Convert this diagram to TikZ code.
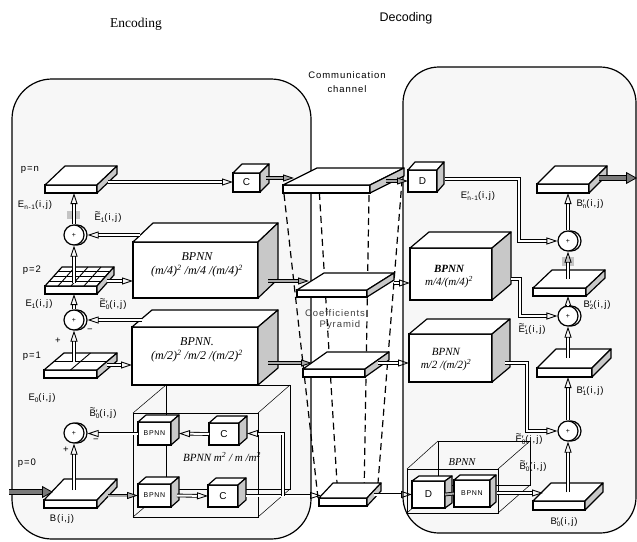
\documentclass[tikz,border=0pt]{standalone}
\usepackage{fontspec}
\setmainfont{Liberation Serif}
\setsansfont{Liberation Sans}
\newfontfamily\lab{Liberation Sans}[LetterSpace=10]
\usetikzlibrary{arrows.meta,calc}
\definecolor{panelfill}{HTML}{F7F7F7}
\definecolor{sidegray}{HTML}{C8C8C8}
\definecolor{arrgray}{HTML}{A8A8A8}
\definecolor{biggray}{HTML}{7A7A7A}
\definecolor{blobgray}{HTML}{C4C4C4}
\newcommand\sbs[1]{\raisebox{-0.35ex}{\fontsize{6.5}{6.5}\selectfont #1}}
\newcommand\ps[1]{\rlap{′}\sbs{#1}}
\newcommand\tld[1]{\setbox0\hbox{#1}\rlap{\hbox to \wd0{\hss\raisebox{0.55em}{\textasciitilde}\hss}}#1}
% name, x, y, w, h, dx, dy, style, text
\newcommand\cubenode[9]{%
  \node[cubefront,#8,minimum width=#4pt,minimum height=#5pt,anchor=north west] (#1) at (#2,#3) {#9};
  \draw[cubeedge,fill=white] (#1.north west) -- ++(#6,-#7) -- ++(#4,0) -- (#1.north east) -- cycle;
  \draw[cubeedge,fill=sidegray] (#1.north east) -- ++(#6,-#7) -- ++(0,#5) -- (#1.south east) -- cycle;
}
\tikzset{
  panel/.style={draw=black,line width=1.2pt,fill=panelfill},
  cubefront/.style={draw=black,line width=1.2pt,fill=white,inner sep=0pt,outer sep=0pt},
  cubeedge/.style={draw=black,line width=1.2pt,line join=round},
  wire/.style={draw=black,line width=0.5pt},
  pyr/.style={draw=black,line width=1.2pt,dash pattern=on 7pt off 4.5pt},
  harrow/.style={draw=black,line width=0.85pt,double=white,double distance=2pt,-{Triangle[open,length=11pt,width=7pt]}},
  garrow/.style={draw=black,line width=0.85pt,double=arrgray,double distance=2pt,-{Triangle[length=11pt,width=7pt,fill=arrgray]}},
  bigarrow/.style={draw=black,line width=0.8pt,double=biggray,double distance=4.5pt,-{Triangle[length=11pt,width=12pt,fill=biggray]}},
  gline/.style={draw=black,line width=0.85pt,double=arrgray,double distance=2pt},
  sumc/.style={circle,draw=black,line width=1.2pt,fill=white,minimum size=20pt,inner sep=0pt,font=\lab\fontsize{7}{7}\selectfont},
  sumsh/.style={draw=black,line width=1.2pt,fill=white},
  lbl/.style={font=\lab\fontsize{9.5}{10}\selectfont,inner sep=0pt},
  bptext/.style={font=\rmfamily\itshape\fontsize{12}{14}\selectfont,align=center,inner sep=0pt},
  small/.style={font=\lab\fontsize{7}{7}\selectfont},
  cfont/.style={font=\lab\fontsize{10}{10}\selectfont},
}
\begin{document}
\begin{tikzpicture}[x=1pt,y=-1pt]
\useasboundingbox (0,0) rectangle (637,541);
% panels
\begin{scope}
\clip (0,0) rectangle (637,541);
\draw[panel,rounded corners=40pt] (12,79) rectangle (311,539);
\draw[panel,rounded corners=36pt] (403,67) rectangle (636,533);
\end{scope}
% titles
\node[font=\rmfamily\fontsize{13.5}{15}\selectfont,inner sep=0pt] (enc) at (136,24) {Encoding};
\node[font=\sffamily\fontsize{12.5}{14}\selectfont,inner sep=0pt] (dec) at (406,18) {Decoding};
\node[font=\lab\fontsize{9.5}{13.5}\selectfont,align=center,inner sep=0pt] (comm) at (347,82) {Communication\\channel};
% pyramid dashed lines
\draw[pyr] (318,170) -- (337,483);
\draw[pyr] (403,168) -- (378,483);
\draw[pyr] (284,194) -- (318,498);
\draw[pyr] (369,195) -- (364,498);
% wireframes
\draw[wire] (133,413) rectangle (258,517);
\draw[wire] (166,385) rectangle (290,489);
\draw[wire] (133,413) -- (166,385) (258,413) -- (290,385) (258,517) -- (290,489) (133,517) -- (166,489);
\draw[wire] (407,469) rectangle (498,513);
\draw[wire] (438,441) rectangle (530,485);
\draw[wire] (407,469) -- (438,441) (498,469) -- (530,441) (498,513) -- (530,485) (407,513) -- (438,485);
% channel plates
\cubenode{ch3}{283}{185}{87}{8}{34}{17}{}{}
\cubenode{ch2}{297}{290}{70}{7}{27}{17}{}{}
\cubenode{ch1}{303}{369}{62}{8}{24}{17}{}{}
\cubenode{ch0}{319}{498}{48}{8}{14}{15}{}{}
\node[lbl,text=black!75] (coef) at (335,313) {Coefficients};
\node[lbl,text=black!75] (pyrm) at (340,325) {Pyramid};
% left plates
\cubenode{pn}{45}{185}{52}{8}{20}{19}{}{}
\cubenode{p2}{45}{286}{52}{8}{17}{19}{}{}
\foreach \i in {1,2,3} {
  \draw[cubeedge,line width=0.9pt] ($(p2.north west)!\i/4!(p2.north east)$) -- ++(17,-19);
  \draw[cubeedge,line width=0.9pt] ([shift={(\i*4.25,-\i*4.75)}]p2.north west) -- ++(52,0);
}
\cubenode{p1}{44}{370}{53}{8}{20}{17}{}{}
\draw[cubeedge,line width=0.9pt] ($(p1.north west)!0.5!(p1.north east)$) -- ++(20,-17);
\draw[cubeedge,line width=0.9pt] ([shift={(10,-8.5)}]p1.north west) -- ++(53,0);
\cubenode{p0}{44}{500}{53}{8}{20}{21}{}{}
% left big boxes
\cubenode{bp1}{133}{242}{125}{56}{20}{19}{}{}
\node[bptext] (bp1t) at (197,265) {BPNN\\(m/4)\textsuperscript{2} /m/4 /(m/4)\textsuperscript{2}};
\cubenode{bp2}{132}{327}{126}{58}{20}{17}{}{}
\node[bptext] (bp2t) at (197,350) {BPNN.\\(m/2)\textsuperscript{2} /m/2 /(m/2)\textsuperscript{2}};
\node[bptext,font=\rmfamily\itshape\fontsize{11}{13}\selectfont] (bp0t) at (222,457) {BPNN m\textsuperscript{2} / m /m\textsuperscript{2}};
% left small cubes
\cubenode{bpt}{138}{422}{33}{23}{8}{7}{small}{BPNN}
\cubenode{ct}{209}{423}{30}{22}{8}{7}{cfont}{C}
\cubenode{bpb}{138}{484}{33}{23}{8}{7}{small}{BPNN}
\cubenode{cb}{208}{485}{30}{22}{8}{7}{cfont}{C}
\cubenode{ctop}{233}{173}{27}{19}{9}{9}{cfont}{C}
% left sums
\draw[sumsh] (77,235) circle[radius=10pt];
\node[sumc] (s1) at (74,235) {+};
\draw[sumsh] (77,320) circle[radius=10pt];
\node[sumc] (s2) at (74,320) {+};
\draw[sumsh] (77,433) circle[radius=10pt];
\node[sumc] (s3) at (74,433) {+};
% right boxes
\cubenode{dt}{408}{170}{29}{22}{7}{8}{cfont}{D}
\cubenode{pbn}{537}{184}{52}{9}{18}{18}{}{}
\cubenode{rb1}{410}{248}{82}{52}{19}{16}{}{}
\node[bptext,font=\rmfamily\itshape\fontsize{11}{13}\selectfont] (rb1t) at (449,277) {\textbf{BPNN}\\m/4/(m/4)\textsuperscript{2}};
\cubenode{pb2}{533}{288}{53}{8}{19}{18}{}{}
\cubenode{rb2}{409}{334}{83}{48}{18}{15}{}{}
\node[bptext,font=\rmfamily\itshape\fontsize{11}{13}\selectfont] (rb2t) at (446,360) {BPNN\\m/2 /(m/2)\textsuperscript{2}};
\cubenode{pb1}{537}{368}{55}{9}{19}{19}{}{}
\cubenode{pb0}{533}{501}{52}{9}{18}{18}{}{}
\cubenode{db}{412}{481}{33}{27}{7}{5}{cfont}{D}
\cubenode{bpr}{454}{480}{36}{27}{6}{5}{small}{BPNN}
\node[bptext,font=\rmfamily\itshape\fontsize{10.5}{12}\selectfont] (bprt) at (462,462) {BPNN};
% right sums
\draw[sumsh] (571,241) circle[radius=10pt];
\node[sumc] (r1) at (568,241) {+};
\draw[sumsh] (571,316) circle[radius=10pt];
\node[sumc] (r2) at (568,316) {+};
\draw[sumsh] (571,431) circle[radius=10pt];
\node[sumc] (r3) at (568,431) {+};
% coordinates
\coordinate (p0c) at (74,490);
\coordinate (p1c) at (74,362);
\coordinate (p2c) at (74,283);
\coordinate (pnr) at (108,182);
\coordinate (ctopr) at (266,178);
\coordinate (ch3in) at (294,178);
\coordinate (bp1l) at (140,235);
\coordinate (p2r) at (107,281);
\coordinate (bp1r) at (268,281);
\coordinate (ch2in) at (309,281);
\coordinate (bp2l) at (142,320);
\coordinate (p1r) at (107,365);
\coordinate (bp2r) at (268,363);
\coordinate (ch1in) at (312,363);
\coordinate (bptr) at (179,433.5);
\coordinate (p0r) at (108,495.5);
\coordinate (bpbr) at (177,495.5);
\coordinate (cbr) at (246,495.5);
\coordinate (ch0in) at (321,495.5);
\coordinate (fb) at (283,495.5);
\coordinate (ctr) at (247,433.5);
\coordinate (inl) at (9,492);
\coordinate (p0l) at (53,492);
\coordinate (ch3r) at (386,181);
\coordinate (dtr) at (445,179);
\coordinate (kr1) at (519,179);
\coordinate (ch2r) at (394,283);
\coordinate (rb1r) at (511,279);
\coordinate (kr2) at (520,279);
\coordinate (ch1r) at (378,363);
\coordinate (rb2r) at (505,363);
\coordinate (kr3) at (527,363);
\coordinate (ch0r) at (374,494.5);
\coordinate (bprr) at (497,493);
\coordinate (pb0in) at (543,493);
\coordinate (pb0c) at (568,492);
\coordinate (pb1c) at (568,358);
\coordinate (pb2c) at (568,279);
\coordinate (pbnr) at (599,178);
\coordinate (outr) at (637,178);
% gray blobs
\fill[blobgray] (67,211) rectangle (80,219);
\fill[blobgray] (562,257) rectangle (574,266);
% left connectors
\draw[harrow] (p0c) -- (s3.south);
\draw[harrow] (p1c) -- (s2.south);
\draw[harrow] (s2.north) -- (s2.north |- p2.south);
\draw[harrow] (p2c) -- (s1.south);
\draw[harrow] (s1.north) -- (s1.north |- pn.south);
\draw[harrow] (pnr) -- (pnr -| ctop.west);
\draw[garrow] (ctopr) -- (ch3in);
\draw[harrow] (bp1l) -- ([xshift=3pt]s1.east);
\draw[harrow] (p2r) -- (p2r -| bp1.west);
\draw[garrow] (bp1r) -- (ch2in);
\draw[harrow] (bp2l) -- ([xshift=3pt]s2.east);
\draw[harrow] (p1r) -- (p1r -| bp2.west);
\draw[garrow] (bp2r) -- (ch1in);
\draw[harrow] (bpt.west) -- ([xshift=3pt]bpt.west -| s3.east);
\draw[harrow] (ct.west) -- (bptr);
\draw[garrow] (p0r) -- (bpb.west);
\draw[harrow] (bpbr) -- (cb.west);
\draw[harrow] (cbr) -- (ch0in);
\draw[harrow] (fb) |- (ctr);
\draw[bigarrow] (inl) -- (p0l);
% right connectors
\draw[garrow] (ch3r) -- (dt.west);
\draw[harrow] (dtr) -- (kr1) |- (r1.west);
\draw[harrow] (ch2r) -- (ch2r -| rb1.west);
\draw[harrow] (rb1r) -- (kr2) |- (r2.west);
\draw[harrow] (ch1r) -- (ch1r -| rb2.west);
\draw[harrow] (rb2r) -- (kr3) |- (r3.west);
\draw[harrow] (ch0r) -- (ch0r -| db.west);
\draw[gline] (db.east) -- (bpr.west);
\draw[harrow] (bprr) -- (pb0in);
\draw[harrow] (pb0c) -- (r3.south);
\draw[harrow] (r3.north) -- (r3.north |- pb1.south);
\draw[harrow] (pb1c) -- (r2.south);
\draw[harrow] (r2.north) -- (r2.north |- pb2.south);
\draw[harrow] (pb2c) -- (r1.south);
\draw[harrow] (r1.north) -- (r1.north |- pbn.south);
\draw[bigarrow] (pbnr) -- (outr);
% labels left
\node[lbl] (lpn) at (30,170) {p=n};
\node[lbl] (len) at (35,205) {E\sbs{n-1}(i,j)};
\node[lbl] (le1t) at (108,217) {\tld{E}\sbs{1}(i,j)};
\node[lbl] (lp2) at (32,270) {p=2};
\node[lbl] (le1) at (39,304) {E\sbs{1}(i,j)};
\node[lbl] (le0t) at (113,304) {\tld{E}\ps{0}(i,j)};
\node[lbl] (lm2) at (90,331) {−};
\node[lbl] (lp2s) at (58,341) {+};
\node[lbl] (lp1) at (32,356) {p=1};
\node[lbl] (le0) at (42,398) {E\sbs{0}(i,j)};
\node[lbl] (lb0t) at (103,413) {\tld{B}\ps{0}(i,j)};
\node[lbl] (lm3) at (96,441) {−};
\node[lbl] (lp3s) at (66,450) {+};
\node[lbl] (lp0) at (27,463) {p=0};
\node[lbl] (lb) at (62,519) {B(i,j)};
% labels right
\node[lbl] (ren) at (478,196) {E\ps{n-1}(i,j)};
\node[lbl] (rbn) at (590,204) {B\ps{n}(i,j)};
\node[lbl] (re1) at (532,329) {\tld{E}\ps{1}(i,j)};
\node[lbl] (rb2l) at (597,305) {B\ps{2}(i,j)};
\node[lbl] (rb1l) at (590,391) {B\ps{1}(i,j)};
\node[lbl] (re0) at (529,439) {\tld{E}\ps{0}(i,j)};
\node[lbl] (rb0t) at (533,466) {\tld{B}\ps{0}(i,j)};
\node[lbl] (rb0) at (564,522) {B\ps{0}(i,j)};
\end{tikzpicture}
\end{document}
